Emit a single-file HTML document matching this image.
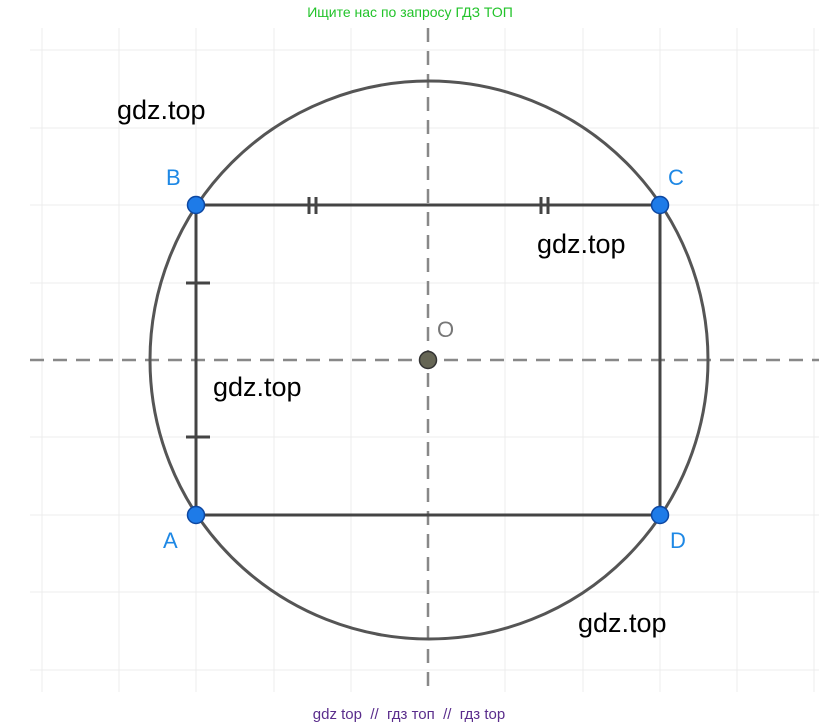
<!DOCTYPE html>
<html><head><meta charset="utf-8"><style>
html,body{margin:0;padding:0;background:#fff;}
body{width:819px;height:728px;overflow:hidden;position:relative;font-family:"Liberation Sans",sans-serif;}
svg{position:absolute;left:0;top:0;}
</style></head><body>
<svg width="819" height="728" viewBox="0 0 819 728" xmlns="http://www.w3.org/2000/svg">
<g stroke="#ececec" stroke-width="1">
<line x1="42" y1="28" x2="42" y2="692"/><line x1="119" y1="28" x2="119" y2="692"/><line x1="196" y1="28" x2="196" y2="692"/><line x1="274" y1="28" x2="274" y2="692"/><line x1="351" y1="28" x2="351" y2="692"/><line x1="505" y1="28" x2="505" y2="692"/><line x1="583" y1="28" x2="583" y2="692"/><line x1="660" y1="28" x2="660" y2="692"/><line x1="737" y1="28" x2="737" y2="692"/><line x1="814" y1="28" x2="814" y2="692"/>
<line x1="30" y1="50" x2="819" y2="50"/><line x1="30" y1="128" x2="819" y2="128"/><line x1="30" y1="205" x2="819" y2="205"/><line x1="30" y1="283" x2="819" y2="283"/><line x1="30" y1="437" x2="819" y2="437"/><line x1="30" y1="515" x2="819" y2="515"/><line x1="30" y1="592" x2="819" y2="592"/><line x1="30" y1="670" x2="819" y2="670"/>
</g>
<g stroke="#888" stroke-width="2.5" stroke-dasharray="14,9">
<line x1="30" y1="360" x2="819" y2="360"/>
<line x1="428" y1="28" x2="428" y2="692"/>
</g>
<circle cx="429" cy="360" r="279" fill="none" stroke="#555" stroke-width="3"/>
<rect x="196" y="205" width="464" height="310" fill="none" stroke="#444" stroke-width="3"/>
<g stroke="#444" stroke-width="3">
<line x1="309" y1="197" x2="309" y2="214"/><line x1="316" y1="197" x2="316" y2="214"/>
<line x1="541" y1="197" x2="541" y2="214"/><line x1="548" y1="197" x2="548" y2="214"/>
<line x1="186" y1="283" x2="210" y2="283"/><line x1="186" y1="437" x2="210" y2="437"/>
</g>
<g fill="#1e7be8" stroke="#0d47a1" stroke-width="1.5">
<circle cx="196" cy="205" r="8.5"/><circle cx="660" cy="205" r="8.5"/><circle cx="196" cy="515" r="8.5"/><circle cx="660" cy="515" r="8.5"/>
</g>
<circle cx="428" cy="360" r="8.5" fill="#666655" stroke="#333" stroke-width="1.5"/>
<g font-size="22" fill="#1e88e5">
<text x="166" y="185">B</text><text x="668" y="185">C</text><text x="163" y="548">A</text><text x="670" y="548">D</text>
</g>
<text x="437" y="337" font-size="22" fill="#777">O</text>
<g font-size="27" fill="#000">
<text x="117" y="119">gdz.top</text><text x="537" y="253">gdz.top</text><text x="213" y="396">gdz.top</text><text x="578" y="632">gdz.top</text>
</g>
<text x="410" y="17" font-size="14" fill="#22c32a" text-anchor="middle">Ищите нас по запросу ГДЗ ТОП</text>
<text x="409" y="719" font-size="15" fill="#5a2d8c" text-anchor="middle" style="white-space:pre">gdz top  //  гдз топ  //  гдз top</text>
</svg>
</body></html>
